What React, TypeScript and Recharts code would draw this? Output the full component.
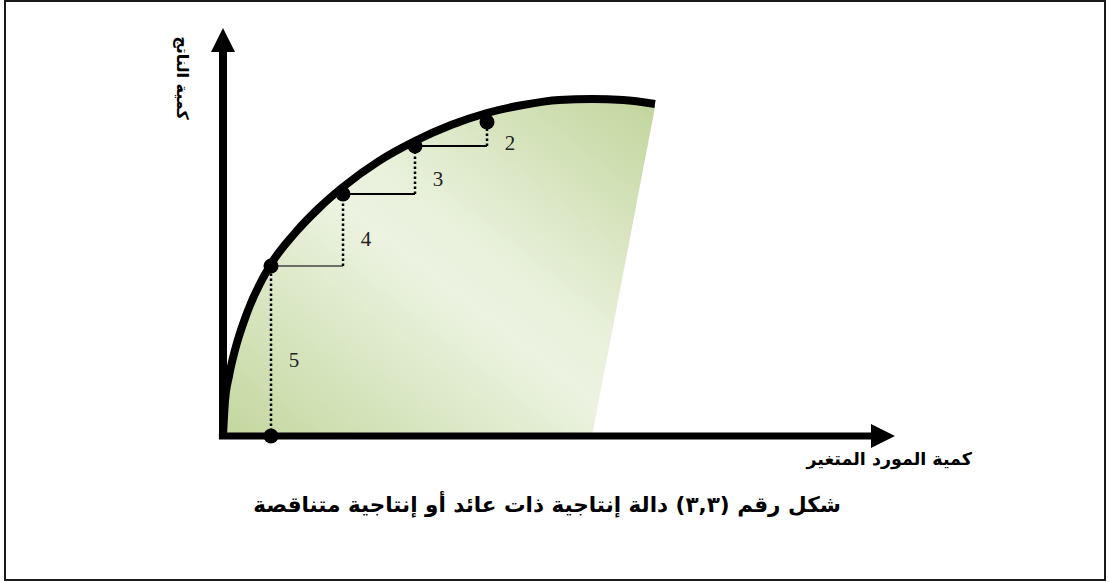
import React from "react";
import {
  ComposedChart,
  Area,
  Line,
  Scatter,
  XAxis,
  YAxis,
  ReferenceLine,
} from "recharts";

// input quantity (x) and total product (y) along the curve
const curveX = [0, 0.083, 0.25, 0.5, 1, 2, 3, 4, 5, 6.5, 8, 9.5, 11, 12.5, 14, 15.375, 16.67, 18];
const curveY = [0, 3.5, 6.0, 8.6, 12.3, 17.2, 20.3, 22.8, 24.9, 27.5, 29.5, 31.1, 32.3, 33.1, 33.6, 33.7, 33.6, 33.2];
// lower edge of the shaded region (slanted cut on the right)
const fillFloor = [0, 0, 0, 0, 0, 0, 0, 0, 0, 0, 0, 0, 0, 0, 0, 0, 16.2, 32.9];

// marked points and their marginal product
const dotX = [2, 5, 8, 11];
const dotY = [17, 24.2, 29, 31.4];
const marginal = ["5", "4", "3", "2"];

const X_MAX = 28;
const Y_MAX = 40.8;
const X_AXIS_END = 27;
const Y_AXIS_END = 38.4;

const title = "شكل رقم (٣,٣) دالة إنتاجية ذات عائد أو إنتاجية متناقصة";
const xLabel = "كمية المورد المتغير";
const yLabel = "كمية الناتج";

const curveData = curveX.map((x, i) => ({
  x,
  curve: curveY[i],
  band: [fillFloor[i], curveY[i]],
}));

const pointData = [
  ...dotX.map((x, i) => ({ x, y: dotY[i] })),
  { x: dotX[0], y: 0 },
];

const labelData = dotX.map((x, i) => {
  const from = i === 0 ? 0 : dotY[i - 1];
  return { x, y: (from + dotY[i]) / 2, text: marginal[i] };
});

const arabicFont = "'DejaVu Sans', 'Noto Sans', sans-serif";

export default function App() {
  return (
    <div style={{ position: "absolute", left: 0, top: 0, width: 1110, height: 582, background: "#fff" }}>
      <ComposedChart
        width={1110}
        height={582}
        data={curveData}
        margin={{ top: 28, right: 215, bottom: 146, left: 223 }}
      >
        <defs>
          <linearGradient id="prodFill" x1="0" y1="1" x2="1" y2="0">
            <stop offset="0%" stopColor="#c3d79e" />
            <stop offset="48%" stopColor="#ecf3e1" />
            <stop offset="58%" stopColor="#e9f1dc" />
            <stop offset="100%" stopColor="#c2d59c" />
          </linearGradient>
          <marker
            id="arrowHead"
            markerWidth={24}
            markerHeight={24}
            refX={0}
            refY={12}
            orient="auto"
            markerUnits="userSpaceOnUse"
          >
            <path d="M0,0 L24,12 L0,24 Z" fill="#000" />
          </marker>
        </defs>
        <XAxis type="number" dataKey="x" domain={[0, X_MAX]} hide />
        <YAxis type="number" domain={[0, Y_MAX]} hide />

        {/* axes with arrow heads */}
        <ReferenceLine
          segment={[{ x: -0.17, y: 0 }, { x: X_AXIS_END, y: 0 }]}
          stroke="#000"
          strokeWidth={7}
          markerEnd="url(#arrowHead)"
          ifOverflow="visible"
        />
        <ReferenceLine
          segment={[{ x: 0, y: -0.2 }, { x: 0, y: Y_AXIS_END }]}
          stroke="#000"
          strokeWidth={8}
          markerEnd="url(#arrowHead)"
          ifOverflow="visible"
        />

        <Area
          type="linear"
          dataKey="band"
          stroke="none"
          fill="url(#prodFill)"
          fillOpacity={1}
          isAnimationActive={false}
        />

        {/* steps: solid run, dotted rise */}
        {dotX.map((x, i) =>
          i === 0 ? null : (
            <ReferenceLine
              key={`h-${i}`}
              segment={[{ x: dotX[i - 1], y: dotY[i - 1] }, { x, y: dotY[i - 1] }]}
              stroke={i === 1 ? "#444" : "#000"}
              strokeWidth={i === 1 ? 1.5 : 2}
              ifOverflow="visible"
            />
          )
        )}
        {dotX.map((x, i) => (
          <ReferenceLine
            key={`v-${i}`}
            segment={[{ x, y: i === 0 ? 0 : dotY[i - 1] }, { x, y: dotY[i] }]}
            stroke="#000"
            strokeWidth={2.5}
            strokeDasharray="2.5 2.5"
            ifOverflow="visible"
          />
        ))}

        <Line
          type="monotone"
          dataKey="curve"
          stroke="#000"
          strokeWidth={8}
          dot={false}
          activeDot={false}
          isAnimationActive={false}
        />

        <Scatter
          data={pointData}
          dataKey="y"
          isAnimationActive={false}
          shape={(p: any) => <circle cx={p.cx} cy={p.cy} r={7.5} fill="#000" />}
        />
        <Scatter
          data={labelData}
          dataKey="y"
          isAnimationActive={false}
          shape={(p: any) => (
            <text
              x={p.cx + 23}
              y={p.cy + 9}
              textAnchor="middle"
              dominantBaseline="central"
              fontFamily="'Liberation Serif', 'Times New Roman', serif"
              fontSize={21}
              fill="#222"
            >
              {p.payload.text}
            </text>
          )}
        />
      </ComposedChart>

      <div
        style={{
          position: "absolute",
          left: 182,
          top: 78,
          transform: "translate(-50%, -50%) rotate(90deg)",
          whiteSpace: "nowrap",
          direction: "rtl",
          fontFamily: arabicFont,
          fontWeight: "bold",
          fontSize: 16,
          color: "#000",
        }}
      >
        {yLabel}
      </div>
      <div
        style={{
          position: "absolute",
          right: 1110 - 972,
          top: 459,
          transform: "translateY(-50%)",
          whiteSpace: "nowrap",
          direction: "rtl",
          fontFamily: arabicFont,
          fontWeight: "bold",
          fontSize: 17.5,
          color: "#000",
        }}
      >
        {xLabel}
      </div>
      <div
        style={{
          position: "absolute",
          left: 547,
          top: 504,
          transform: "translate(-50%, -50%)",
          whiteSpace: "nowrap",
          direction: "rtl",
          fontFamily: arabicFont,
          fontWeight: "bold",
          fontSize: 21.5,
          color: "#000",
        }}
      >
        {title}
      </div>
      <div
        style={{
          position: "absolute",
          left: 4,
          top: 0,
          width: 1102,
          height: 581,
          boxSizing: "border-box",
          border: "2px solid #1a1a1a",
          pointerEvents: "none",
        }}
      />
    </div>
  );
}
